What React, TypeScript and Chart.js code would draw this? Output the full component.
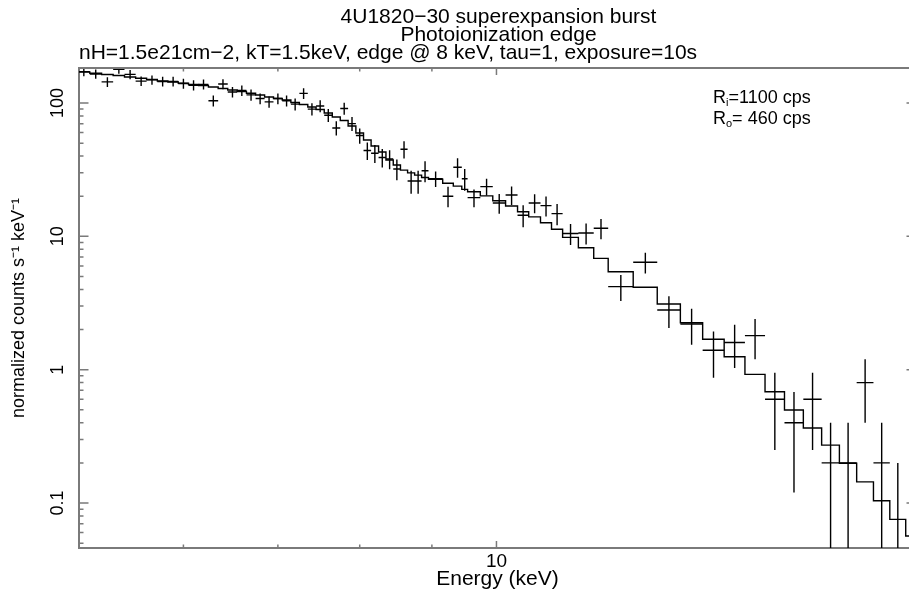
import { useEffect, useRef } from 'react';
import { Chart, registerables } from 'chart.js';

Chart.register(...registerables);

const FONT = '"Liberation Sans", Arial, Helvetica, sans-serif';

const TITLE_LINES = ['4U1820\u221230 superexpansion burst', 'Photoionization edge'];
const SUBTITLE = 'nH=1.5e21cm\u22122, kT=1.5keV, edge @ 8 keV, tau=1, exposure=10s';
const X_TITLE = 'Energy (keV)';
const Y_TITLE = 'normalized counts s\u207B\u00B9 keV\u207B\u00B9';
const ANNOTATIONS = [
  { main: 'R', sub: 'i', rest: '=1100 cps' },
  { main: 'R', sub: 'o', rest: '= 460 cps' },
];

const X_MIN = 5.06;
const X_MAX = 19.83;
const Y_MIN = 0.046;
const Y_MAX = 183;

const X_LABEL_TICKS = [10];
const X_MINOR_TICKS = [6, 7, 8, 9];
const Y_LABEL_TICKS = [0.1, 1, 10, 100];
const Y_MINOR_TICKS = [
  0.05, 0.06, 0.07, 0.08, 0.09, 0.2, 0.3, 0.4, 0.5, 0.6, 0.7, 0.8, 0.9,
  2, 3, 4, 5, 6, 7, 8, 9, 20, 30, 40, 50, 60, 70, 80, 90,
];

// energy bin edges (keV)
const BIN_EDGES = [
  5.05, 5.15, 5.25, 5.35, 5.45, 5.55, 5.65, 5.75, 5.85, 5.95,
  6.05, 6.15, 6.25, 6.35, 6.45, 6.55, 6.65, 6.75, 6.85, 6.95,
  7.05, 7.15, 7.25, 7.35, 7.45, 7.55, 7.65, 7.75, 7.85, 7.95,
  8.05, 8.15, 8.25, 8.35, 8.45, 8.55, 8.65, 8.75, 8.85, 8.95,
  9.16, 9.32, 9.45, 9.54, 9.74, 9.94, 10.15, 10.35, 10.54, 10.745,
  10.94, 11.14, 11.43, 11.72, 12.0, 12.5, 13.0, 13.5, 14.0, 14.5,
  15.0, 15.5, 16.0, 16.5, 17.0, 17.5, 18.0, 18.5, 19.0, 19.5, 20.0,
];

// observed normalized counts s^-1 keV^-1
const RATE: (number | null)[] = [
  172, 165, 144, 179, 164, 146, 149, 145, 145, 140,
  136, 138, 104, 139, 121, 124, 115, 108, 102, 108,
  104, 98, 118, 90, 95, 81, 65, 91, 70, 57,
  44, 42, 39, 38, 32, 45, 26, 26, 31, 27,
  20, 33, 27, 19.5, 23.6, 17.8, 20.4, 14.4, 17.8, 17,
  14.8, 10.5, 10.6, 11.5, 4.2, 6.4, 2.8, 2.2, 1.4, 1.6,
  1.8, 0.6, 0.4, 0.6, 0.2, 0.2, 0.8, 0.2, 0, null,
];

const RATE_ERR = [
  13, 13, 12, 13, 13, 12, 12, 12, 12, 12,
  12, 12, 10, 12, 11, 11, 11, 10, 10, 10,
  10, 10, 11, 9.5, 9.7, 9, 8, 9.5, 8.4, 7.5,
  6.6, 6.5, 6.2, 6.2, 5.7, 6.7, 5.1, 5.1, 5.6, 3.6,
  3.5, 5.5, 5, 3, 3.4, 3, 3.2, 2.7, 2.9, 2.9,
  2.7, 1.9, 1.9, 2, 0.92, 1.13, 0.75, 0.66, 0.53, 0.57,
  0.6, 0.35, 0.28, 0.35, 0.2, 0.2, 0.4, 0.2, 0.2, 0,
];

// folded model, one value per bin
const MODEL = [
  170.8, 167.0, 163.6, 160.8, 156.7, 153.2, 150.1, 146.2, 143.7, 140.5,
  137.6, 135.3, 131.8, 128.4, 125.2, 122.0, 118.2, 114.8, 110.9, 108.1,
  105.3, 100.9, 97.4, 93.3, 89.4, 84.1, 78.5, 73.9, 67.2, 59.6,
  52.8, 47.6, 42.9, 37.4, 34.3, 31.4, 29.9, 28.8, 27.6, 26.8,
  25.0, 23.8, 22.5, 21.6, 20.1, 18.5, 16.9, 15.3, 14.0, 12.65,
  11.3, 9.83, 8.22, 6.84, 5.43, 4.15, 3.11, 2.25, 1.69, 1.25,
  0.923, 0.683, 0.498, 0.365, 0.272, 0.199, 0.144, 0.104, 0.0754, 0.0566,
];

const INK = '#000000';
const FRAME = '#7a7a7a';

function buildData() {
  const centers = RATE.map((_, i) => (BIN_EDGES[i] + BIN_EDGES[i + 1]) / 2);
  const model: { x: number; y: number | null }[] = MODEL.map((m, i) => ({ x: BIN_EDGES[i], y: m }));
  model.push({ x: BIN_EDGES[MODEL.length], y: MODEL[MODEL.length - 1] });
  const hBars: { x: number; y: number | null }[] = [];
  const vBars: { x: number; y: number | null }[] = [];
  RATE.forEach((r, i) => {
    if (r === null) return;
    if (r > 0) {
      hBars.push({ x: BIN_EDGES[i], y: r }, { x: BIN_EDGES[i + 1], y: r }, { x: centers[i], y: null });
    }
    vBars.push(
      { x: centers[i], y: Math.max(r - RATE_ERR[i], Y_MIN) },
      { x: centers[i], y: r + RATE_ERR[i] },
      { x: centers[i], y: null },
    );
  });
  return { model, hBars, vBars };
}

const decorPlugin = {
  id: 'decor',
  afterDraw(chart: any) {
    const { ctx, chartArea: a, scales } = chart;
    const xs = scales.x;
    const ys = scales.y;
    ctx.save();
    // top and right frame + inward ticks
    ctx.strokeStyle = FRAME;
    ctx.lineWidth = 2;
    ctx.beginPath();
    ctx.moveTo(a.left, a.top);
    ctx.lineTo(a.right, a.top);
    ctx.lineTo(a.right, a.bottom);
    ctx.stroke();
    ctx.lineWidth = 1.5;
    ctx.beginPath();
    const xt = (vals: number[], len: number) => {
      vals.forEach((v) => {
        const p = xs.getPixelForValue(v);
        ctx.moveTo(p, a.bottom);
        ctx.lineTo(p, a.bottom - len);
        ctx.moveTo(p, a.top);
        ctx.lineTo(p, a.top + len);
      });
    };
    const yt = (vals: number[], len: number) => {
      vals.forEach((v) => {
        const p = ys.getPixelForValue(v);
        ctx.moveTo(a.left, p);
        ctx.lineTo(a.left + len, p);
        ctx.moveTo(a.right, p);
        ctx.lineTo(a.right - len, p);
      });
    };
    xt(X_LABEL_TICKS, 7);
    xt(X_MINOR_TICKS, 3.5);
    yt(Y_LABEL_TICKS, 9.5);
    yt(Y_MINOR_TICKS, 4.5);
    ctx.stroke();

    // titles
    ctx.fillStyle = INK;
    ctx.textBaseline = 'middle';
    ctx.font = `21px ${FONT}`;
    ctx.textAlign = 'center';
    const cx = (a.left + a.right) / 2 + 1;
    ctx.fillText(TITLE_LINES[0], cx, 17);
    ctx.fillText(TITLE_LINES[1], cx, 35);
    ctx.textAlign = 'left';
    ctx.fillText(SUBTITLE, a.left, 53);

    // annotation
    const ax = 713;
    ANNOTATIONS.forEach((t, i) => {
      const y = 98 + i * 21;
      ctx.font = `18px ${FONT}`;
      ctx.fillText(t.main, ax, y);
      let x = ax + ctx.measureText(t.main).width;
      ctx.font = `11px ${FONT}`;
      ctx.fillText(t.sub, x, y + 5);
      x += ctx.measureText(t.sub).width;
      ctx.font = `18px ${FONT}`;
      ctx.fillText(t.rest, x, y);
    });
    ctx.restore();
  },
};

export default function App() {
  const ref = useRef<HTMLCanvasElement | null>(null);
  useEffect(() => {
    if (!ref.current) return;
    const { model, hBars, vBars } = buildData();
    const chart = new Chart(ref.current, {
      type: 'line',
      data: {
        datasets: [
          { data: hBars, borderColor: INK, borderWidth: 1.4, pointRadius: 0, spanGaps: false, tension: 0 },
          { data: vBars, borderColor: INK, borderWidth: 1.4, pointRadius: 0, spanGaps: false, tension: 0 },
          { data: model, borderColor: INK, borderWidth: 1.4, pointRadius: 0, stepped: true, tension: 0 },
        ] as any,
      },
      options: {
        animation: false,
        responsive: true,
        maintainAspectRatio: false,
        events: [],
        layout: { padding: { top: 68, right: 19, bottom: 0, left: 0 } },
        plugins: { legend: { display: false }, tooltip: { enabled: false }, title: { display: false } },
        scales: {
          x: {
            type: 'logarithmic',
            min: X_MIN,
            max: X_MAX,
            afterBuildTicks: (s: any) => {
              s.ticks = X_LABEL_TICKS.map((v) => ({ value: v }));
            },
            afterFit: (s: any) => {
              s.height = 42;
            },
            grid: { display: false, drawTicks: false },
            border: { display: true, color: FRAME, width: 2 },
            ticks: {
              color: INK,
              font: { family: FONT, size: 19 },
              padding: 2,
              maxRotation: 0,
              autoSkip: false,
              callback: (v: any) => String(v),
            },
            title: {
              display: true,
              text: X_TITLE,
              color: INK,
              font: { family: FONT, size: 21, lineHeight: 1 },
              padding: 0,
            },
          },
          y: {
            type: 'logarithmic',
            min: Y_MIN,
            max: Y_MAX,
            afterBuildTicks: (s: any) => {
              s.ticks = Y_LABEL_TICKS.map((v) => ({ value: v }));
            },
            afterFit: (s: any) => {
              s.width = 79;
            },
            grid: { display: false, drawTicks: false },
            border: { display: true, color: FRAME, width: 2 },
            ticks: {
              color: INK,
              font: { family: FONT, size: 18 },
              minRotation: 90,
              maxRotation: 90,
              crossAlign: 'center',
              padding: 6,
              autoSkip: false,
              callback: (v: any) => String(v),
            },
            title: {
              display: true,
              text: Y_TITLE,
              color: INK,
              font: { family: FONT, size: 18, lineHeight: 1 },
              padding: { top: 10, bottom: 0 },
            },
          },
        },
      } as any,
      plugins: [decorPlugin],
    });
    return () => chart.destroy();
  }, []);

  return (
    <div style={{ position: 'fixed', left: 0, top: 0, width: 909, height: 590, overflow: 'hidden', background: '#fff' }}>
      <div style={{ position: 'relative', width: 935, height: 590 }}>
        <canvas ref={ref} />
      </div>
    </div>
  );
}
